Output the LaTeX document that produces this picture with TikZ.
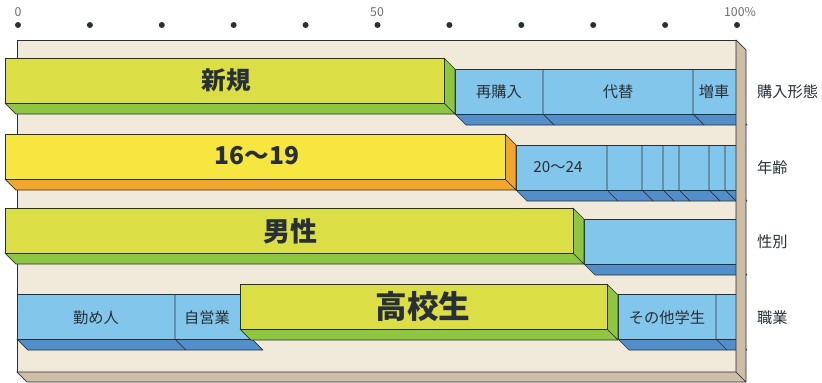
\documentclass[tikz,border=0pt]{standalone}
\usepackage{fontspec}
\setmainfont{Noto Sans CJK JP}
\usepackage{tikz}
\definecolor{panel}{RGB}{241,234,219}
\definecolor{panelside}{RGB}{206,190,168}
\definecolor{lime}{RGB}{220,222,70}
\definecolor{limeside}{RGB}{142,198,66}
\definecolor{lemon}{RGB}{248,230,64}
\definecolor{lemonside}{RGB}{243,166,46}
\definecolor{sky}{RGB}{130,198,236}
\definecolor{skyside}{RGB}{82,142,202}
\definecolor{ink}{RGB}{40,48,54}
\pgfdeclarelayer{backlayer}
\pgfdeclarelayer{nodelayer}
\pgfsetlayers{backlayer,main,nodelayer}
\tikzstyle{face}=[draw=ink,line width=0.6pt,line join=round]
\tikzstyle{big}=[font=\fontsize{21}{21}\selectfont\bfseries,text=ink]
\tikzstyle{small}=[font=\fontsize{13}{13}\selectfont,text=ink]
\tikzstyle{side}=[font=\fontsize{13}{13}\selectfont,text=ink,anchor=west]
\tikzstyle{ticklabel}=[font=\fontsize{10.5}{10.5}\selectfont,text=ink!70]
% front bar: x1, x2, top, front colour, side colour
\newcommand{\frontbar}[5]{%
  \path[fill=#5,face] (#1,#3+45) -- (#2,#3+45) -- (#2+11,#3+56) -- (#1+11,#3+56) -- cycle;
  \path[fill=#5,face] (#2,#3) -- (#2+11,#3+11) -- (#2+11,#3+56) -- (#2,#3+45) -- cycle;
  \path[fill=#4,face] (#1,#3) rectangle (#2,#3+45);
}
% back bar: x1, x2, top
\newcommand{\backbar}[3]{%
  \path[fill=skyside,face] (#1,#3+45) -- (#2,#3+45) -- (#2+11,#3+56) -- (#1+11,#3+56) -- cycle;
  \path[fill=sky,face] (#1,#3) rectangle (#2,#3+45);
}
% divider: x, top
\newcommand{\divider}[2]{%
  \draw[ink,line width=0.6pt] (#1,#2) -- (#1,#2+45) -- (#1+11,#2+56);
}

\begin{document}
\begin{tikzpicture}[x=0.03cm,y=-0.03cm]
  \useasboundingbox (0,0) rectangle (822,382);

  \begin{pgfonlayer}{backlayer}
    \path[fill=panel,face] (17,40) rectangle (736,372);
    \path[fill=panelside,face] (17,372) -- (736,372) -- (746,382) -- (27,382) -- cycle;
  \end{pgfonlayer}

  % scale
  \foreach \i in {0,...,10}
    \fill[ink] (18+71.9*\i,25) circle (3);
  \node[ticklabel] (zero) at (18,12) {0};
  \node[ticklabel] (half) at (377,12) {50};
  \node[ticklabel] (full) at (740,12) {100\%};

  % 購入形態
  \backbar{455}{736}{69}
  \foreach \x in {543,693} {\divider{\x}{69}}
  \frontbar{5}{444}{58}{lime}{limeside}

  % 年齢
  \backbar{516}{736}{145}
  \foreach \x in {607,642,663,679,709,725} {\divider{\x}{145}}
  \frontbar{5}{505}{134}{lemon}{lemonside}

  % 性別
  \backbar{584}{736}{219}
  \frontbar{5}{573}{208}{lime}{limeside}

  % 職業
  \backbar{17}{252}{294}
  \divider{175}{294}
  \backbar{618}{736}{294}
  \divider{716}{294}
  \frontbar{240}{607}{284}{lime}{limeside}

  % panel side on top of the cut bars
  \path[fill=panelside,face] (736,40) -- (746,50) -- (746,382) -- (736,372) -- cycle;

  \begin{pgfonlayer}{nodelayer}
    \node[big] (shinki) at (226,80) {新規};
    \node[big] (teen) at (257,156) {16〜19};
    \node[big, font=\fontsize{23}{23}\selectfont\bfseries] (male) at (290,231) {男性};
    \node[big, font=\fontsize{27}{27}\selectfont\bfseries] (student) at (423,306) {高校生};

    \node[small] (rebuy) at (499,92) {再購入};
    \node[small] (replace) at (618,92) {代替};
    \node[small] (extra) at (714,92) {増車};
    \node[small] (twenty) at (558,167) {20〜24};
    \node[small] (worker) at (96,318) {勤め人};
    \node[small] (self) at (207,318) {自営業};
    \node[small] (other) at (667,318) {その他学生};

    \node[side] (kind) at (753,92) {購入形態};
    \node[side] (age) at (753,168) {年齢};
    \node[side] (sex) at (753,242) {性別};
    \node[side] (job) at (753,318) {職業};
  \end{pgfonlayer}
\end{tikzpicture}
\end{document}
